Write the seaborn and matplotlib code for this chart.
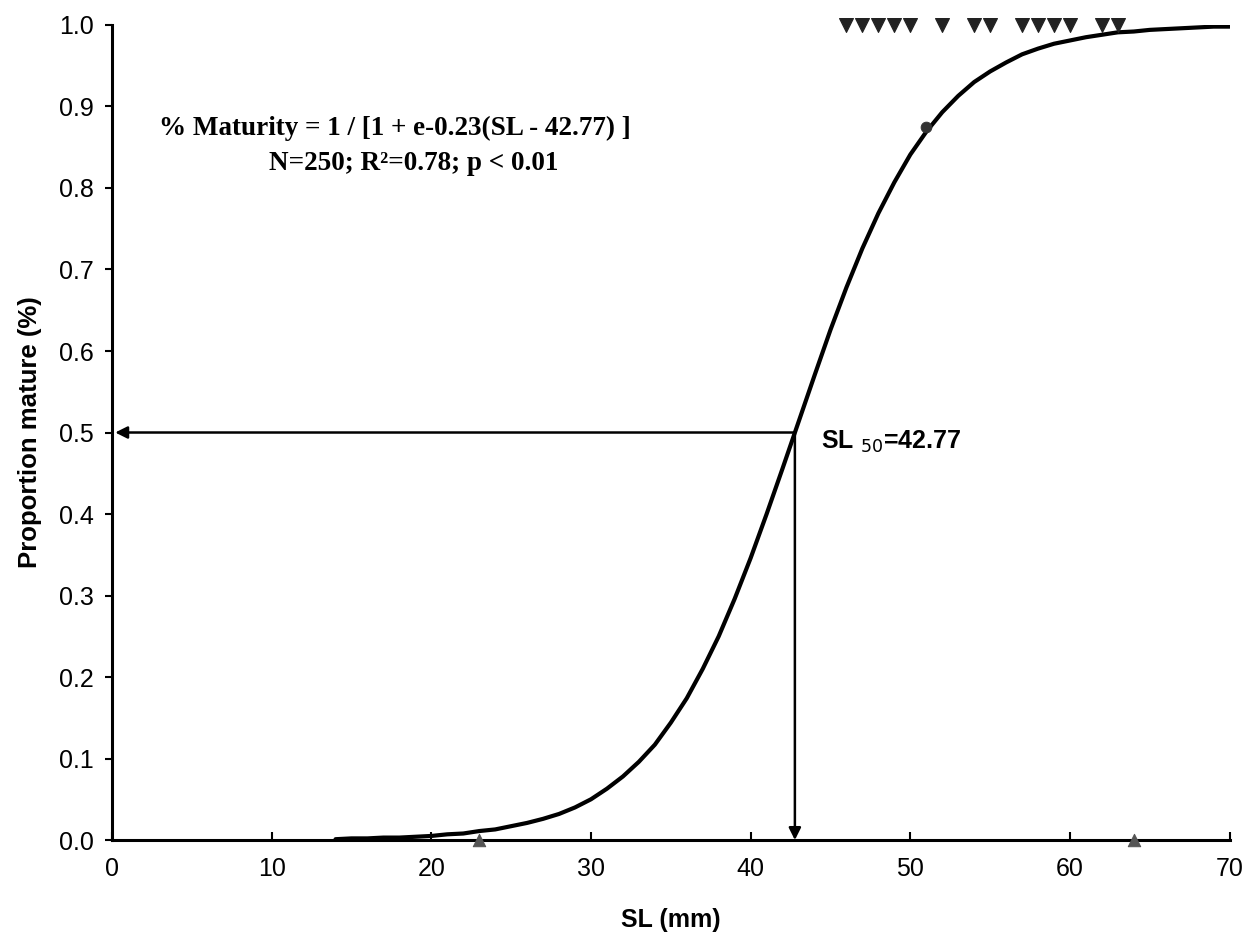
import matplotlib
matplotlib.use("Agg")
import matplotlib.pyplot as plt
import seaborn as sns
import pandas as pd

# ---- data ----
fit_sl = list(range(14, 71))
fit_prop = [0.001, 0.002, 0.002, 0.003, 0.003, 0.004, 0.005, 0.007, 0.008,
            0.011, 0.013, 0.017, 0.021, 0.026, 0.032, 0.040, 0.050, 0.063,
            0.078, 0.096, 0.117, 0.144, 0.174, 0.210, 0.250, 0.296, 0.346,
            0.400, 0.456, 0.513, 0.570, 0.626, 0.678, 0.726, 0.769, 0.807,
            0.841, 0.869, 0.893, 0.913, 0.930, 0.943, 0.954, 0.964, 0.971,
            0.977, 0.981, 0.985, 0.988, 0.991, 0.992, 0.994, 0.995, 0.996,
            0.997, 0.998, 0.998]

mature_sl = [46, 47, 48, 49, 50, 52, 54, 55, 57, 58, 59, 60, 62, 63]
mature_prop = [1.0] * len(mature_sl)

mid_sl = [51]
mid_prop = [0.875]

immature_sl = [23, 64]
immature_prop = [0.0, 0.0]

sl50 = 42.77
x_ticks = [0, 10, 20, 30, 40, 50, 60, 70]
y_ticks = [0.0, 0.1, 0.2, 0.3, 0.4, 0.5, 0.6, 0.7, 0.8, 0.9, 1.0]

# ---- plotting ----
sns.set_theme(style="white")
plt.rcParams['font.family'] = ['Liberation Sans', 'DejaVu Sans']
plt.rcParams['text.color'] = 'black'
plt.rcParams['axes.labelcolor'] = 'black'

fig = plt.figure(figsize=(12.6, 9.43), dpi=100)
ax = fig.add_axes([0.0889, 0.1092, 0.887, 0.8643])

fit_df = pd.DataFrame({"SL": fit_sl, "prop": fit_prop})
sns.lineplot(data=fit_df, x="SL", y="prop", ax=ax, color="black",
             linewidth=3, zorder=3)

sns.scatterplot(x=mature_sl, y=mature_prop, ax=ax, marker="v", s=100,
                color="#222222", edgecolor="#222222", zorder=4, clip_on=False)
sns.scatterplot(x=mid_sl, y=mid_prop, ax=ax, marker="o", s=60,
                color="#333333", edgecolor="#333333", zorder=4)
sns.scatterplot(x=immature_sl, y=immature_prop, ax=ax, marker="^", s=80,
                color="#555555", edgecolor="#555555", zorder=4, clip_on=False)

# SL50 arrows
ax.annotate("", xy=(0.2, 0.5), xytext=(sl50, 0.5),
            arrowprops=dict(arrowstyle="-|>", color="black", lw=1.8,
                            mutation_scale=18, shrinkA=0, shrinkB=0),
            zorder=5)
ax.annotate("", xy=(sl50, 0.0), xytext=(sl50, 0.5),
            arrowprops=dict(arrowstyle="-|>", color="black", lw=1.8,
                            mutation_scale=18, shrinkA=0, shrinkB=0),
            zorder=5)

ax.text(44.4, 0.488, r"SL $_{50}$=42.77", fontsize=18, fontweight="bold",
        ha="left", va="center", color="black")

ax.text(17.7, 0.873, "% Maturity = 1 / [1 + e-0.23(SL - 42.77) ]",
        fontsize=19.5, fontweight="bold", family=["Liberation Serif"],
        ha="center", va="center", color="black")
ax.text(18.9, 0.830, "N=250; R\u00b2=0.78; p < 0.01",
        fontsize=19.5, fontweight="bold",
        family=["Liberation Serif", "DejaVu Serif"],
        ha="center", va="center", color="black")

ax.set_xlim(0, 70)
ax.set_ylim(0, 1.0)
ax.set_xticks(x_ticks)
ax.set_yticks(y_ticks)
ax.set_xticklabels([str(v) for v in x_ticks], fontsize=18)
ax.set_yticklabels([f"{v:.1f}" for v in y_ticks], fontsize=18)

ax.set_xlabel("SL (mm)", fontsize=18, fontweight="bold", labelpad=20)
ax.set_ylabel("Proportion mature (%)", fontsize=18.5, fontweight="bold",
              labelpad=12)

for side in ["top", "right"]:
    ax.spines[side].set_visible(False)
for side in ["left", "bottom"]:
    ax.spines[side].set_color("black")
    ax.spines[side].set_linewidth(2.2)

ax.tick_params(axis="x", direction="in", length=6, width=1.5, pad=12,
               colors="black", bottom=True)
ax.tick_params(axis="y", direction="out", length=5, width=1.5, pad=8,
               colors="black", left=True)
ax.grid(False)

fig.savefig("out.png", dpi=100, facecolor="white")
